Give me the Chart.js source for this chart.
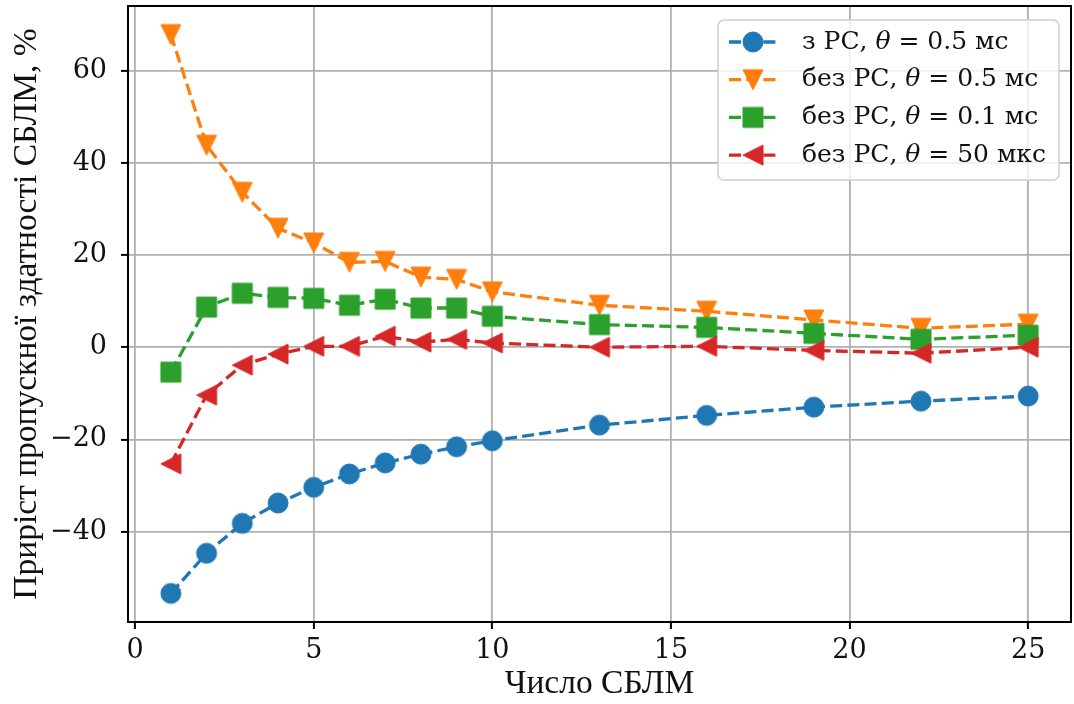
<!DOCTYPE html>
<html lang="uk">
<head>
<meta charset="UTF-8">
<title>Приріст пропускної здатності СБЛМ</title>
<script src="https://cdn.jsdelivr.net/npm/chart.js"></script>
<style>
  html, body { margin: 0; padding: 0; background: #fff; }
</style>
</head>
<body>
<canvas id="gainChart" width="1074" height="704"></canvas>
<script>
// number of SBLM units
const counts = [1, 2, 3, 4, 5, 6, 7, 8, 9, 10, 13, 16, 19, 22, 25];

// throughput gain, %
const withRs05 = [-53.4, -44.7, -38.2, -33.8, -30.4, -27.5, -25.1, -23.2, -21.6, -20.3, -16.9, -14.8, -13.0, -11.7, -10.6];
const noRs05   = [67.8, 43.8, 33.6, 25.8, 22.6, 18.4, 18.6, 15.2, 14.7, 12.0, 9.1, 7.8, 5.9, 4.1, 5.0];
const noRs01   = [-5.4, 8.7, 11.7, 10.8, 10.6, 9.1, 10.4, 8.5, 8.5, 6.7, 4.9, 4.3, 3.0, 1.7, 2.6];
const noRs50us = [-25.3, -10.4, -3.9, -1.5, 0.2, 0.2, 2.4, 1.1, 1.7, 0.9, 0.0, 0.2, -0.7, -1.3, 0.0];

const seriesNames = ['з РС', 'без РС', 'без РС', 'без РС'];
const thetaValues = ['0.5 мс', '0.5 мс', '0.1 мс', '50 мкс'];

const xTicks = [0, 5, 10, 15, 20, 25];
const yTicks = [-40, -20, 0, 20, 40, 60];

const colors = ['#1f77b4', '#ff7f0e', '#2ca02c', '#d62728'];
const DASH = [12, 5.2];

// matplotlib-like markers drawn on small canvases
function makeMarker(shape, color, size) {
  const c = document.createElement('canvas');
  c.width = c.height = size + 4;
  const g = c.getContext('2d');
  const m = c.width / 2, h = size / 2;
  g.fillStyle = color;
  g.strokeStyle = color;
  g.lineWidth = 1;
  g.beginPath();
  if (shape === 'circle') {
    g.arc(m, m, h, 0, Math.PI * 2);
  } else if (shape === 'square') {
    g.rect(m - h, m - h, size, size);
  } else if (shape === 'down') {
    g.moveTo(m - h, m - h);
    g.lineTo(m + h, m - h);
    g.lineTo(m, m + h);
  } else if (shape === 'left') {
    g.moveTo(m + h, m - h);
    g.lineTo(m + h, m + h);
    g.lineTo(m - h, m);
  }
  g.closePath();
  g.fill();
  g.stroke();
  return c;
}

const markers = [
  makeMarker('circle', colors[0], 20),
  makeMarker('down', colors[1], 20),
  makeMarker('square', colors[2], 20),
  makeMarker('left', colors[3], 20)
];

const seriesValues = [withRs05, noRs05, noRs01, noRs50us];

const datasets = seriesValues.map((vals, i) => ({
  label: `${seriesNames[i]}, θ = ${thetaValues[i]}`,
  data: counts.map((c, j) => ({ x: c, y: vals[j] })),
  borderColor: colors[i],
  backgroundColor: colors[i],
  borderWidth: 3.3,
  borderDash: DASH,
  pointStyle: markers[i],
  pointRadius: 11,
  order: 3 - i
}));

const serif = "'DejaVu Serif', serif";
const titleSerif = "'Liberation Serif', 'Times New Roman', serif";

// top/right spines and the boxed legend
const framePlugin = {
  id: 'frame',
  afterDatasetsDraw(chart) {
    const { ctx, chartArea: a } = chart;
    ctx.save();
    ctx.strokeStyle = '#000';
    ctx.lineWidth = 2;
    ctx.strokeRect(a.left, a.top, a.right - a.left, a.bottom - a.top);
    ctx.restore();
  },
  afterDraw(chart) {
    const { ctx, chartArea: a } = chart;
    const bx = a.right - 353, by = a.top + 14, bw = 341, bh = 160;
    ctx.save();
    ctx.beginPath();
    ctx.roundRect(bx, by, bw, bh, 6);
    ctx.fillStyle = 'rgba(255,255,255,0.8)';
    ctx.fill();
    ctx.strokeStyle = '#d0d0d0';
    ctx.lineWidth = 1.5;
    ctx.stroke();

    const regular = `25px ${serif}`;
    const italic = `italic 25px ${serif}`;
    for (let i = 0; i < seriesNames.length; i++) {
      const y = by + 22 + i * 37.7;
      ctx.strokeStyle = colors[i];
      ctx.lineWidth = 3.3;
      ctx.setLineDash(DASH);
      ctx.beginPath();
      ctx.moveTo(bx + 11, y);
      ctx.lineTo(bx + 62, y);
      ctx.stroke();
      ctx.setLineDash([]);
      const mk = markers[i];
      ctx.drawImage(mk, bx + 35 - mk.width / 2, y - mk.height / 2);

      ctx.fillStyle = '#111';
      ctx.textBaseline = 'middle';
      let x = bx + 84;
      const parts = [
        [regular, `${seriesNames[i]}, `],
        [italic, 'θ'],
        [regular, ` = ${thetaValues[i]}`]
      ];
      for (const [font, text] of parts) {
        ctx.font = font;
        ctx.fillText(text, x, y);
        x += ctx.measureText(text).width;
      }
    }
    ctx.restore();
  }
};

new Chart(document.getElementById('gainChart'), {
  type: 'line',
  data: { datasets },
  options: {
    responsive: false,
    animation: false,
    layout: { autoPadding: false, padding: { top: 6, right: 3, left: 0, bottom: 0 } },
    plugins: { legend: { display: false }, tooltip: { enabled: false } },
    scales: {
      x: {
        type: 'linear',
        min: -0.2,
        max: 26.2,
        afterBuildTicks: s => { s.ticks = xTicks.map(v => ({ value: v })); },
        afterFit: s => {
          s.height = 82;
          s.paddingLeft = 0;
          s.paddingRight = 0;
        },
        grid: { color: '#b0b0b0', lineWidth: 1.8, tickColor: '#000', tickLength: 7, tickWidth: 2 },
        border: { color: '#000', width: 2 },
        ticks: { color: '#111', font: { family: serif, size: 27 }, padding: 6, maxRotation: 0 },
        title: {
          display: true,
          text: 'Число СБЛМ',
          color: '#111',
          font: { family: titleSerif, size: 33.5 },
          padding: { top: 0, bottom: 0 }
        }
      },
      y: {
        type: 'linear',
        min: -59.6,
        max: 74,
        afterBuildTicks: s => { s.ticks = yTicks.map(v => ({ value: v })); },
        afterFit: s => {
          s.width = 128;
          s.paddingTop = 0;
          s.paddingBottom = 0;
        },
        grid: { color: '#b0b0b0', lineWidth: 1.8, tickColor: '#000', tickLength: 7, tickWidth: 2 },
        border: { color: '#000', width: 2 },
        ticks: {
          color: '#111',
          font: { family: serif, size: 27 },
          padding: 14,
          callback: v => (v < 0 ? '\u2212' + Math.abs(v) : String(v))
        },
        title: {
          display: true,
          text: 'Приріст пропускної здатності СБЛМ, %',
          color: '#111',
          font: { family: titleSerif, size: 33.5 },
          padding: { top: 7, bottom: 0 }
        }
      }
    }
  },
  plugins: [framePlugin]
});
</script>
</body>
</html>
